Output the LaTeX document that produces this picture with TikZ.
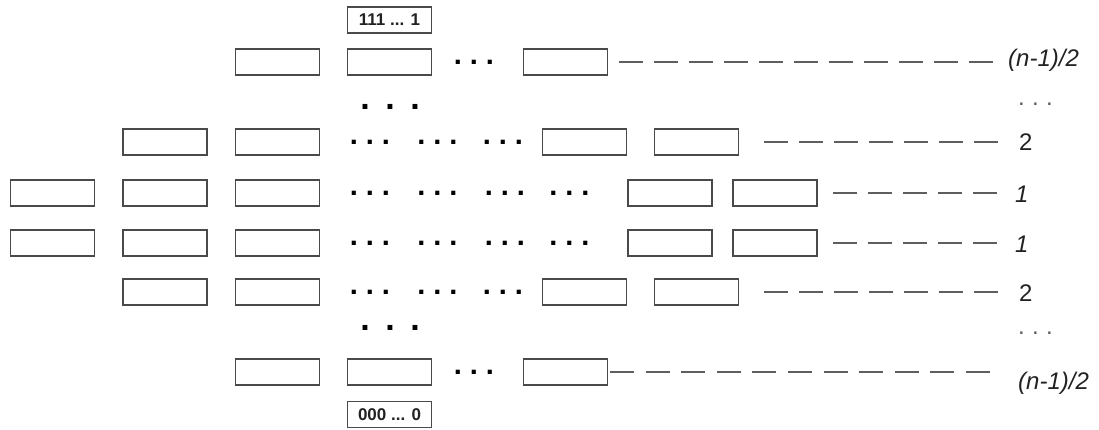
\documentclass[tikz,border=0pt]{standalone}
\usepackage{fontspec}
\setmainfont{Liberation Sans}
\newcommand\trio[1]{\makebox[#1]{.}\makebox[#1]{.}\makebox[#1]{.}}
\definecolor{boxc}{HTML}{4A4A4A}
\definecolor{dashc}{HTML}{5E5E5E}
\definecolor{txtc}{HTML}{222222}
\begin{document}
\begin{tikzpicture}[x=1pt,y=-1pt,
  cell/.style={draw=boxc, line width=1.4pt, minimum width=84pt, minimum height=26pt, inner sep=0pt, outer sep=0pt, fill=white},
  celltext/.style={cell, font=\fontsize{17}{19}\selectfont\bfseries, text=txtc},
  bigdots/.style={font=\fontsize{29}{31}\selectfont\bfseries, inner sep=0pt, anchor=base, text=black},
  vdots/.style={font=\fontsize{34}{36}\selectfont\bfseries, inner sep=0pt, anchor=base, text=black},
  rdots/.style={font=\fontsize{24}{26}\selectfont, inner sep=0pt, anchor=base, text=dashc},
  rlabel/.style={font=\fontsize{24}{26}\selectfont, inner sep=0pt, anchor=base west, text=txtc},
  rlabeli/.style={rlabel, font=\fontsize{24}{26}\selectfont\itshape},
  dashln/.style={draw=dashc, line width=1.1pt, dash pattern=on 24pt off 11pt}]
\fill[white] (0,0) rectangle (1099,429);
\useasboundingbox (0,0) rectangle (1099,429);
% top extreme
\node[celltext] (top) at (389.5,20) {111 ... 1};
% row (n-1)/2 top
\node[cell] (t1) at (277.5,62) {};
\node[cell] (t2) at (389.5,62) {};
\node[bigdots] (td) at (474,64) {\trio{16pt}};
\node[cell] (t3) at (565.5,62) {};
\node[vdots] (vd1) at (390,109) {\trio{25pt}};
% row 2 top
\node[cell] (a1) at (165,142) {};
\node[cell] (a2) at (277.5,142) {};
\node[bigdots] (ad1) at (370,144) {\trio{16pt}};
\node[bigdots] (ad2) at (437.5,144) {\trio{16pt}};
\node[bigdots] (ad3) at (503,144) {\trio{16pt}};
\node[cell] (a3) at (584.5,142) {};
\node[cell] (a4) at (696.5,142) {};
% row 1 top
\node[cell] (b0) at (52.5,193) {};
\node[cell] (b1) at (165,193) {};
\node[cell] (b2) at (277.5,193) {};
\node[bigdots] (bd1) at (370,195) {\trio{16pt}};
\node[bigdots] (bd2) at (437.5,195) {\trio{16pt}};
\node[bigdots] (bd3) at (505,195) {\trio{16pt}};
\node[bigdots] (bd4) at (569.5,195) {\trio{16pt}};
\node[cell] (b3) at (670,193) {};
\node[cell] (b4) at (775,193) {};
% row 1 bottom
\node[cell] (e0) at (52.5,243) {};
\node[cell] (e1) at (165,243) {};
\node[cell] (e2) at (277.5,243) {};
\node[bigdots] (ed1) at (370,245) {\trio{16pt}};
\node[bigdots] (ed2) at (437.5,245) {\trio{16pt}};
\node[bigdots] (ed3) at (505,245) {\trio{16pt}};
\node[bigdots] (ed4) at (569.5,245) {\trio{16pt}};
\node[cell] (e3) at (670,243) {};
\node[cell] (e4) at (775,243) {};
% row 2 bottom
\node[cell] (f1) at (165,292) {};
\node[cell] (f2) at (277.5,292) {};
\node[bigdots] (fd1) at (370,294) {\trio{16pt}};
\node[bigdots] (fd2) at (437.5,294) {\trio{16pt}};
\node[bigdots] (fd3) at (503,294) {\trio{16pt}};
\node[cell] (f3) at (584.5,292) {};
\node[cell] (f4) at (696.5,292) {};
\node[vdots] (vd2) at (390,330) {\trio{25pt}};
% row (n-1)/2 bottom
\node[cell] (c1) at (277.5,372) {};
\node[cell] (c2) at (389.5,372) {};
\node[bigdots] (cd) at (474,374) {\trio{16pt}};
\node[cell] (c3) at (565.5,372) {};
% bottom extreme
\node[celltext] (bot) at (389.5,414.5) {000 ... 0};
% right labels
\node[rlabeli] (lt) at (1008,66) {(n-1)/2};
\node[rdots] (rd1) at (1035.5,105) {\trio{14pt}};
\node[rlabel] (la) at (1019,150) {2};
\node[rlabeli] (lb) at (1015,202) {1};
\node[rlabeli] (le) at (1015,252) {1};
\node[rlabel] (lf) at (1019,301) {2};
\node[rdots] (rd2) at (1035.5,334) {\trio{14pt}};
\node[rlabeli] (lc) at (1018,389) {(n-1)/2};
% dashed leaders
\draw[dashln, shorten <=11pt, shorten >=15pt] (t3.east) -- (t3.east -| lt.west);
\draw[dashln, shorten <=25.5pt, shorten >=21pt] (a4.east) -- (a4.east -| la.west);
\draw[dashln, shorten <=16pt, shorten >=18pt] (b4.east) -- (b4.east -| lb.west);
\draw[dashln, shorten <=16pt, shorten >=18pt] (e4.east) -- (e4.east -| le.west);
\draw[dashln, shorten <=25.5pt, shorten >=21pt] (f4.east) -- (f4.east -| lf.west);
\draw[dashln, dash pattern=on 24pt off 11.6pt, shorten <=2.5pt, shorten >=28pt] (c3.east) -- (c3.east -| lc.west);
\end{tikzpicture}
\end{document}
